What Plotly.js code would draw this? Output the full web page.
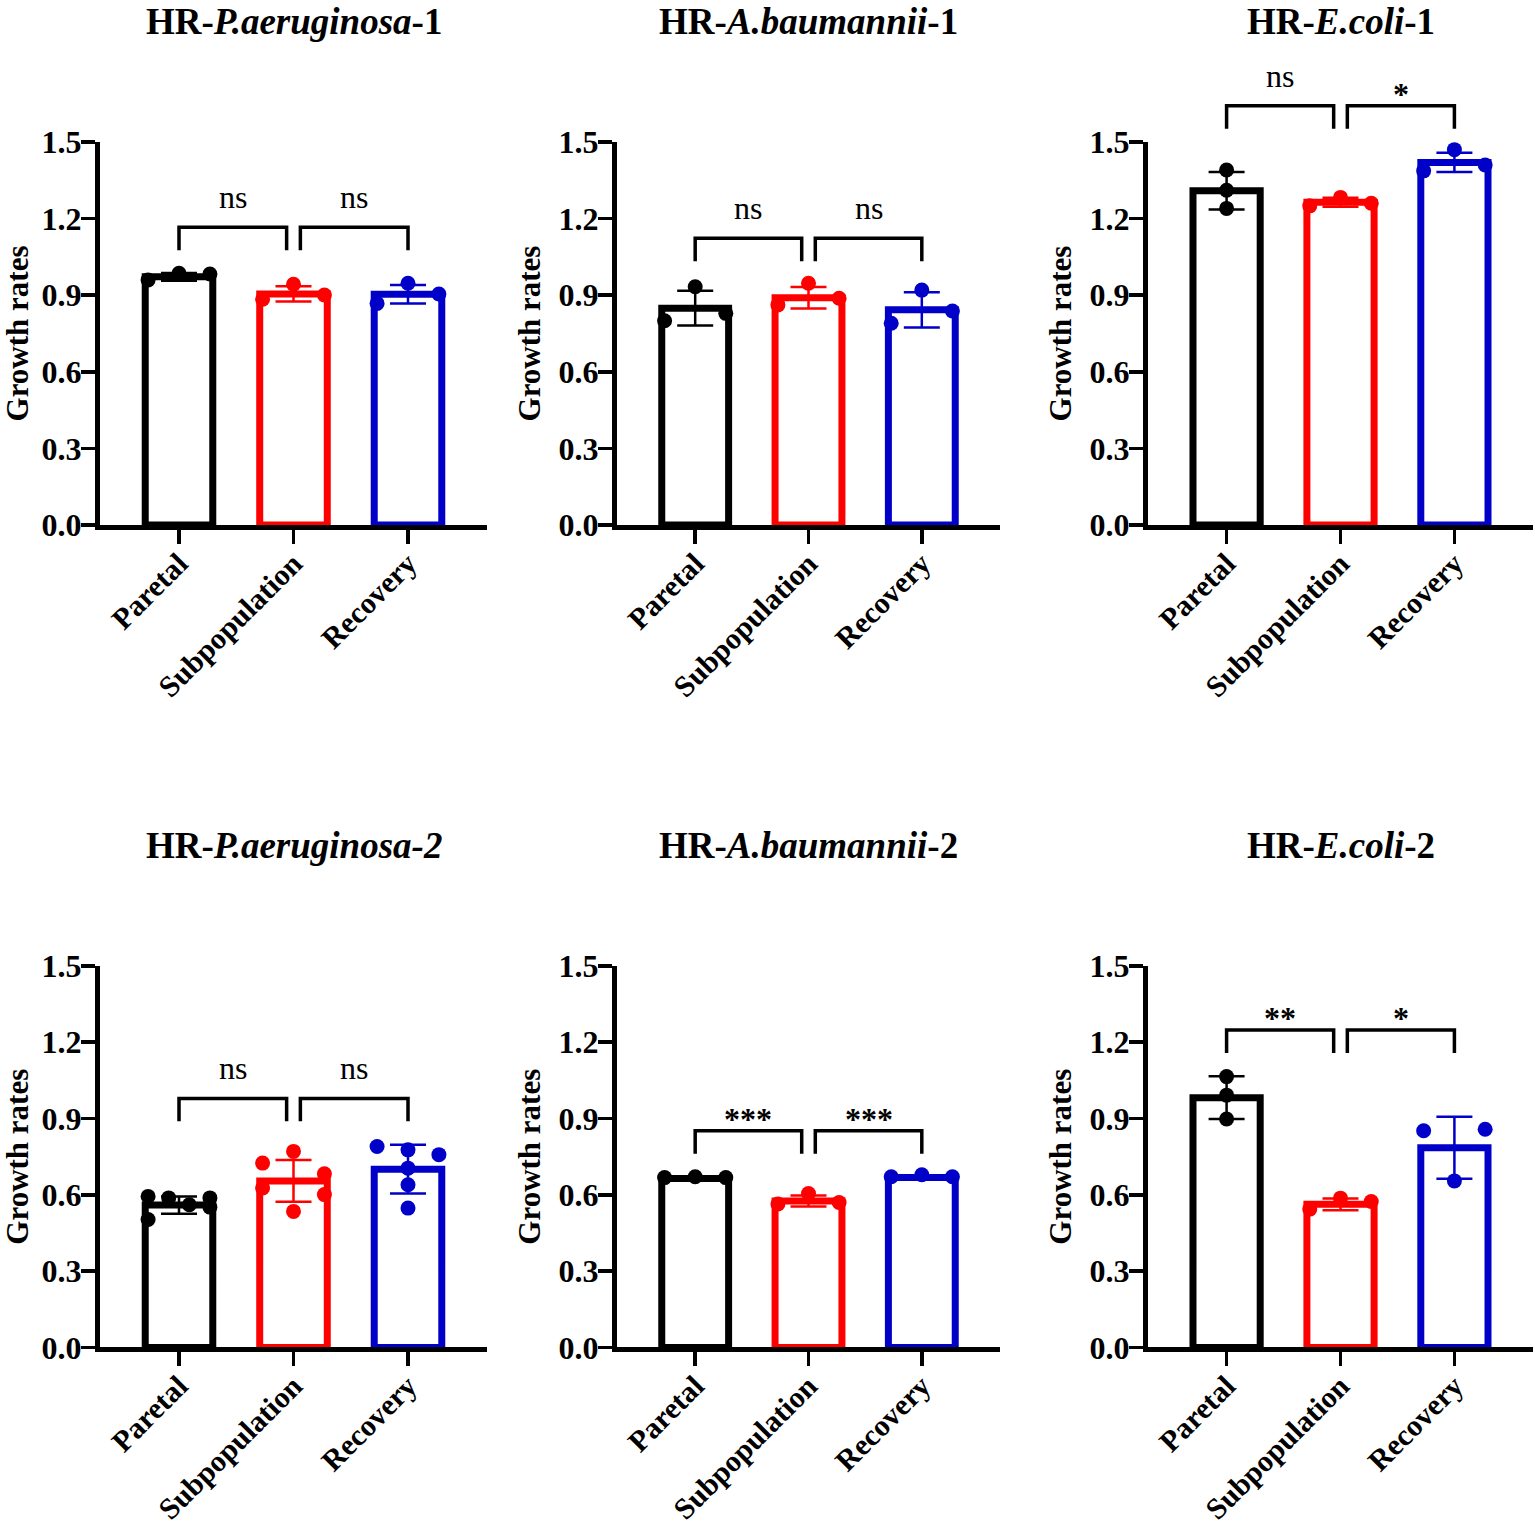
<!DOCTYPE html>
<html>
<head>
<meta charset="utf-8">
<script src="https://cdn.plot.ly/plotly-3.0.1.min.js"></script>
<style>
  body { margin: 0; background: #fff; }
</style>
</head>
<body>
<div id="chart" style="width:1535px;height:1525px"></div>
<script>
// groups and panel titles
let groups = ['Paretal', 'Subpopulation', 'Recovery'];
let colors = ['#000000', '#ff0000', '#0000c8'];
let titles = [
  'HR-<i>P.aeruginosa</i>-1', 'HR-<i>A.baumannii</i>-1', 'HR-<i>E.coli</i>-1',
  'HR-<i>P.aeruginosa-2</i>', 'HR-<i>A.baumannii</i>-2', 'HR-<i>E.coli</i>-2'
];

// bar heights (mean), SD and single replicates
let pa1Mean = [0.972, 0.905, 0.904];
let pa1Sd = [0.015, 0.030, 0.036];
let pa1Pts = [[0.960, 0.986, 0.983], [0.884, 0.943, 0.901], [0.868, 0.947, 0.905]];

let ab1Mean = [0.849, 0.890, 0.843];
let ab1Sd = [0.068, 0.042, 0.069];
let ab1Pts = [[0.800, 0.933, 0.829], [0.862, 0.947, 0.888], [0.790, 0.920, 0.838]];

let ec1Mean = [1.309, 1.264, 1.420];
let ec1Sd = [0.073, 0.018, 0.038];
let ec1Pts = [[1.390, 1.311, 1.240], [1.250, 1.283, 1.260], [1.387, 1.470, 1.410]];

let pa2Mean = [0.560, 0.655, 0.701];
let pa2Sd = [0.034, 0.082, 0.096];
let pa2Pts = [
  [0.594, 0.588, 0.503, 0.561, 0.552, 0.588],
  [0.725, 0.771, 0.683, 0.627, 0.601, 0.535],
  [0.790, 0.777, 0.758, 0.705, 0.640, 0.548]
];

let ab2Mean = [0.664, 0.576, 0.668];
let ab2Sd = [0.006, 0.022, 0.006];
let ab2Pts = [[0.668, 0.671, 0.668], [0.564, 0.605, 0.570], [0.671, 0.679, 0.671]];

let ec2Mean = [0.982, 0.563, 0.785];
let ec2Sd = [0.084, 0.023, 0.122];
let ec2Pts = [[1.065, 0.992, 0.898], [0.544, 0.587, 0.574], [0.852, 0.858, 0.655]];

let sigLabels = [['ns', 'ns'], ['ns', 'ns'], ['ns', '*'], ['ns', 'ns'], ['***', '***'], ['**', '*']];

let panels = [
  {mean: pa1Mean, sd: pa1Sd, pts: pa1Pts, bracket: 1.166},
  {mean: ab1Mean, sd: ab1Sd, pts: ab1Pts, bracket: 1.123},
  {mean: ec1Mean, sd: ec1Sd, pts: ec1Pts, bracket: 1.642},
  {mean: pa2Mean, sd: pa2Sd, pts: pa2Pts, bracket: 0.979},
  {mean: ab2Mean, sd: ab2Sd, pts: ab2Pts, bracket: 0.852},
  {mean: ec2Mean, sd: ec2Sd, pts: ec2Pts, bracket: 1.248}
];

let FONT = 'Liberation Serif, Times New Roman, serif';
let YMAX = 1.5;
let colDomains = [[100 / 1535, 487 / 1535], [617 / 1535, 1000 / 1535], [1148 / 1535, 1533 / 1535]];
let rowDomains = [[0.6557, 0.9069], [0.1164, 0.3666]];
let titleY = [1 - 22 / 1525, 1 - 845 / 1525];

// spread replicates that sit at about the same height side by side
function spread(vals) {
  let order = vals.map(function(v, i) { return i; }).sort(function(a, b) { return vals[a] - vals[b]; });
  let off = vals.map(function() { return 0; });
  let grp = [];
  let start = null;
  function flush() {
    if(grp.length > 1) {
      grp.sort(function(a, b) { return a - b; });
      grp.forEach(function(idx, k) { off[idx] = -0.27 + 0.54 * k / (grp.length - 1); });
    }
    grp = [];
  }
  order.forEach(function(idx) {
    if(start === null || vals[idx] - start > 0.05) {
      flush();
      start = vals[idx];
    }
    grp.push(idx);
  });
  flush();
  return off;
}

let traces = [];
let layout = {
  width: 1535,
  height: 1525,
  margin: {l: 0, r: 0, t: 0, b: 0},
  paper_bgcolor: '#fff',
  plot_bgcolor: 'rgba(0,0,0,0)',
  showlegend: false,
  shapes: [],
  annotations: []
};

panels.forEach(function(p, n) {
  let k = n + 1;
  let xid = 'x' + (k === 1 ? '' : k);
  let yid = 'y' + (k === 1 ? '' : k);
  let col = n % 3;
  let row = Math.floor(n / 3);

  for(let g = 0; g < 3; g++) {
    traces.push({
      type: 'bar',
      x: [g],
      y: [p.mean[g]],
      width: 0.59,
      xaxis: xid,
      yaxis: yid,
      marker: {color: '#ffffff', line: {color: colors[g], width: 7}},
      error_y: {type: 'data', array: [p.sd[g]], visible: true, color: colors[g], thickness: 2.5, width: 18},
      hoverinfo: 'skip'
    });
  }
  for(let g = 0; g < 3; g++) {
    let off = spread(p.pts[g]);
    traces.push({
      type: 'scatter',
      mode: 'markers',
      x: p.pts[g].map(function(v, i) { return g + off[i]; }),
      y: p.pts[g],
      xaxis: xid,
      yaxis: yid,
      cliponaxis: false,
      marker: {color: colors[g], size: 15, line: {width: 0}},
      hoverinfo: 'skip'
    });
  }

  layout['xaxis' + (k === 1 ? '' : k)] = {
    domain: colDomains[col],
    anchor: yid,
    range: [-0.69, 2.69],
    tickvals: [0, 1, 2],
    ticktext: groups,
    tickangle: -45,
    tickfont: {family: FONT, size: 30, color: '#000', weight: 'bold'},
    ticklabelstandoff: -10,
    showline: true,
    linewidth: 5,
    linecolor: '#000',
    ticks: 'outside',
    ticklen: 14,
    tickwidth: 3.5,
    tickcolor: '#000',
    showgrid: false,
    zeroline: false,
    automargin: false,
    fixedrange: true
  };
  layout['yaxis' + (k === 1 ? '' : k)] = {
    domain: rowDomains[row],
    anchor: xid,
    range: [0, YMAX],
    tickvals: [0, 0.3, 0.6, 0.9, 1.2, 1.5],
    tickformat: '.1f',
    tickfont: {family: FONT, size: 32, color: '#000', weight: 'bold'},
    ticklabelstandoff: -7,
    showline: true,
    linewidth: 5,
    linecolor: '#000',
    ticks: 'outside',
    ticklen: 14,
    tickwidth: 3.5,
    tickcolor: '#000',
    showgrid: false,
    zeroline: false,
    automargin: false,
    fixedrange: true,
    title: {text: 'Growth rates', font: {family: FONT, size: 31, color: '#000', weight: 'bold'}, standoff: 10}
  };

  // panel title
  layout.annotations.push({
    xref: xid + ' domain', yref: 'paper', x: 0.5, y: titleY[row],
    xanchor: 'center', yanchor: 'middle', showarrow: false,
    text: '<b>' + titles[n] + '</b>',
    font: {family: FONT, size: 37, color: '#000'}
  });

  // significance brackets
  let spans = [[0, 0.94], [1.06, 2]];
  let top = p.bracket / YMAX;
  let foot = (p.bracket - 0.09) / YMAX;
  spans.forEach(function(s, j) {
    layout.shapes.push({
      type: 'path',
      xref: xid, yref: yid + ' domain',
      path: 'M' + s[0] + ',' + foot + ' L' + s[0] + ',' + top + ' L' + s[1] + ',' + top + ' L' + s[1] + ',' + foot,
      line: {color: '#000', width: 3.5}
    });
    let lab = sigLabels[n][j];
    let isNs = lab === 'ns';
    layout.annotations.push({
      xref: xid, yref: yid + ' domain', x: (s[0] + s[1]) / 2, y: top,
      xanchor: 'center', yanchor: 'middle', yshift: isNs ? 30 : 12,
      showarrow: false,
      text: isNs ? lab : '<b>' + lab + '</b>',
      font: {family: FONT, size: 32, color: '#000'}
    });
  });
});

Plotly.newPlot('chart', traces, layout, {displayModeBar: false, staticPlot: true});
</script>
</body>
</html>
